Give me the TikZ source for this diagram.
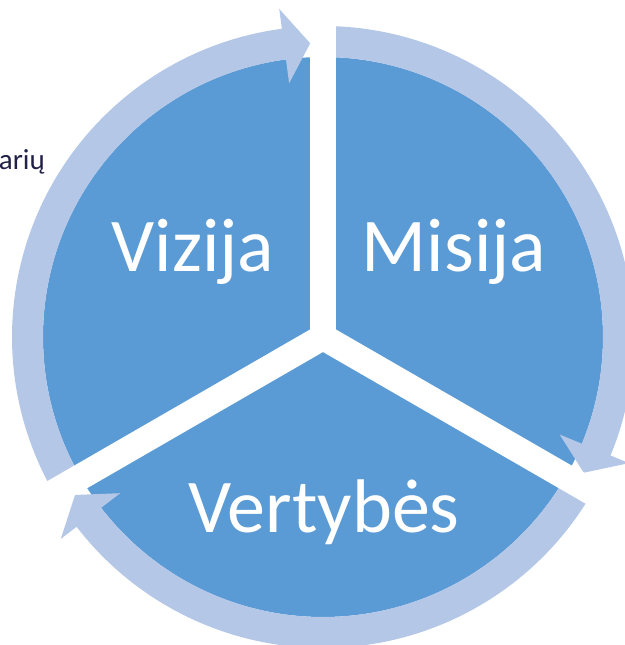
\documentclass[tikz,border=0pt]{standalone}
\usepackage{fontspec}
\setmainfont{Carlito}
\usepackage{xcolor}
\usetikzlibrary{positioning}

\definecolor{piefill}{HTML}{5B9BD5}
\definecolor{ringfill}{HTML}{B4C7E7}
\definecolor{darktext}{RGB}{32,32,72}

\begin{document}
\begin{tikzpicture}[x=1pt, y=1pt,
    sector/.style={font=\fontsize{76}{80}\selectfont, text=white, anchor=base, inner sep=0pt},
    gapline/.style={white, line width=26pt, line cap=butt}]
    \useasboundingbox (-323,-308) rectangle (301,337);
    % the pie
    \fill[piefill] (0,0) circle (280);
    % three arrows round the ring
    \foreach \s/\b/\t in {210/97.6/92.5, 90/-22.4/-27.5, -30/-142.4/-147.5} {
        \fill[ringfill] (\s:280) arc[start angle=\s, end angle=\b, radius=280]
            -- (\b:256) -- (\t:294) -- (\b:331) -- (\b:311)
            arc[start angle=\b, end angle=\s, radius=311] -- cycle;
    }
    % white gaps between the sectors
    \foreach \a in {90, -30, 210} {
        \draw[gapline] (0,0) -- (\a:345);
    }
    \node[sector] (vizija) at (-130,65) {Vizija};
    \node[sector] (misija) at (131,65) {Misija};
    \node[sector] (vertybes) at (1,-195) {Vertybės};
    \node[font=\fontsize{29}{32}\selectfont, text=darktext, anchor=base east, inner sep=0pt]
        (ariu) at (-278,167) {arių};
\end{tikzpicture}
\end{document}
